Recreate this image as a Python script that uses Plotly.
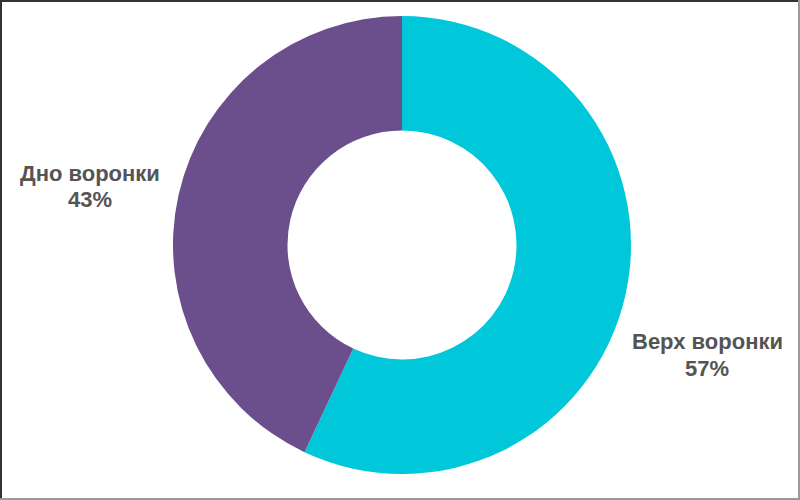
import plotly.graph_objects as go

labels = ["Верх воронки", "Дно воронки"]
values = [57, 43]
colors = ["#00C7DA", "#6B4F8D"]
# pixel centers of (name line, percent line) for outside labels
label_pos = [((707, 341), (707, 368)), ((90, 173), (90, 199))]

W, H = 800, 500
cx, cy, r = 402, 245, 229

fig = go.Figure(go.Pie(
    labels=labels, values=values, hole=0.5, sort=False, direction="clockwise",
    rotation=0, marker=dict(colors=colors, line=dict(width=0)),
    textinfo="none", hoverinfo="label+percent", showlegend=False,
    domain=dict(x=[(cx - r) / W, (cx + r) / W], y=[1 - (cy + r) / H, 1 - (cy - r) / H]),
))

total = sum(values)
font = dict(family="Liberation Sans, Arial", size=22, color="#545454")
anns = []
for lab, v, ((x1, y1), (x2, y2)) in zip(labels, values, label_pos):
    for txt, px, py in ((lab, x1, y1), (f"{round(100 * v / total)}%", x2, y2)):
        anns.append(dict(
            x=px / W, y=1 - py / H, xref="paper", yref="paper", showarrow=False,
            text=f"<b>{txt}</b>", font=font,
            xanchor="center", yanchor="middle",
        ))

shapes = [
    dict(type="line", xref="paper", yref="paper", x0=0, x1=1, y0=1, y1=1, line=dict(color="#333333", width=4)),
    dict(type="line", xref="paper", yref="paper", x0=0, x1=0, y0=0, y1=1, line=dict(color="#333333", width=4)),
    dict(type="line", xref="paper", yref="paper", x0=1, x1=1, y0=0, y1=1, line=dict(color="#9a9a9a", width=4)),
    dict(type="line", xref="paper", yref="paper", x0=0, x1=1, y0=0, y1=0, line=dict(color="#9a9a9a", width=4)),
]

fig.update_layout(
    width=W, height=H, margin=dict(l=0, r=0, t=0, b=0),
    paper_bgcolor="white", plot_bgcolor="white",
    annotations=anns, shapes=shapes,
)
fig.write_html("out.html", config={"displayModeBar": False},
               post_script="document.body.style.margin='0';document.body.style.overflow='hidden';")
